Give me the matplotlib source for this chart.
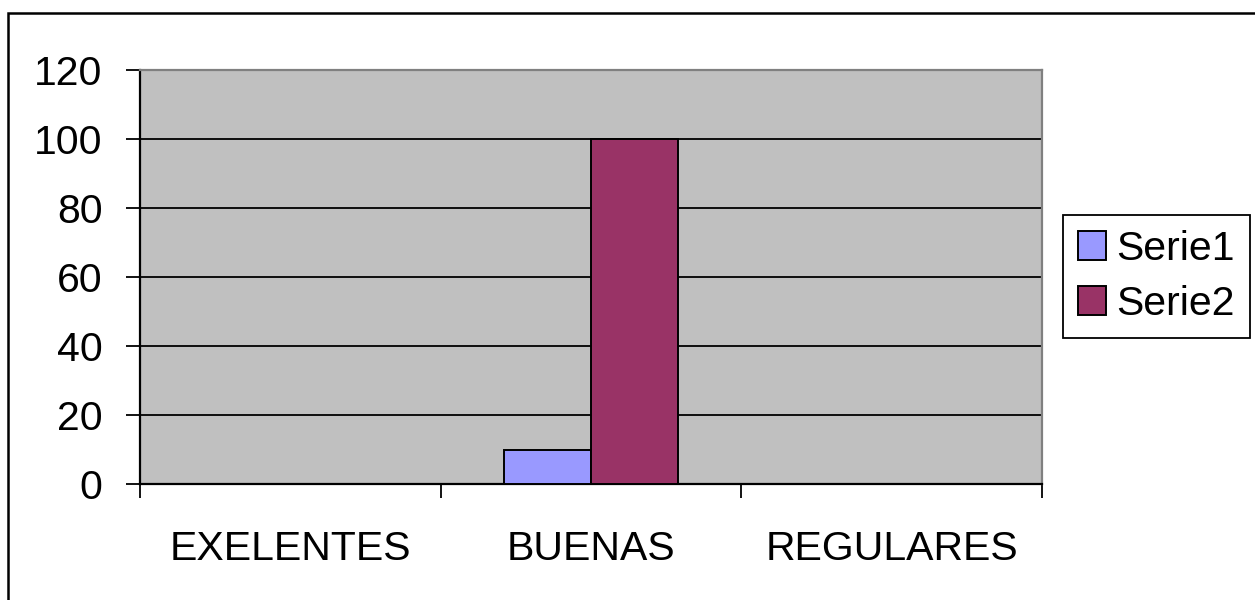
import numpy as np
import matplotlib.pyplot as plt
from matplotlib.patches import Rectangle

categories = ["EXELENTES", "BUENAS", "REGULARES"]
serie1 = [0, 10, 0]
serie2 = [0, 100, 0]
yticks = [0, 20, 40, 60, 80, 100, 120]

W, H = 1255, 600
plt.rcParams["font.family"] = ["Liberation Sans", "DejaVu Sans"]

fig = plt.figure(figsize=(W / 100, H / 100), dpi=100)
fig.patch.set_facecolor("white")

# outer chart border (runs off right/bottom edges like the source)
fig.patches.append(Rectangle((8 / W, -0.1), 1.2, 1 - 13 / H + 0.1,
                             transform=fig.transFigure, fill=False,
                             edgecolor="black", linewidth=1.8, zorder=0))

ax = fig.add_axes([140 / W, (H - 484) / H, 902 / W, 414 / H])
ax.set_facecolor("#C0C0C0")

x = np.arange(len(categories))
bw = 0.29
ax.bar(x - bw / 2, serie1, bw, color="#9999FF", edgecolor="black",
       linewidth=1.4, label="Serie1", zorder=3)
ax.bar(x + bw / 2, serie2, bw, color="#993366", edgecolor="black",
       linewidth=1.4, label="Serie2", zorder=3)

ax.set_xlim(-0.5, len(categories) - 0.5)
ax.set_ylim(0, 120)
ax.set_yticks(yticks)
ax.yaxis.grid(True, color="black", linewidth=1.3, zorder=1)
ax.set_axisbelow(True)

ax.set_xticks(x)
ax.set_xticklabels(categories)
ax.set_xticks(np.arange(-0.5, len(categories)), minor=True)
ax.tick_params(axis="x", which="major", length=0, pad=33, labelsize=29.5)
ax.tick_params(axis="x", which="minor", length=10, width=1.3, color="black")
ax.tick_params(axis="y", length=10, width=1.3, pad=17, labelsize=29.5)

for s in ("left", "bottom"):
    ax.spines[s].set_color("black")
    ax.spines[s].set_linewidth(1.6)
for s in ("top", "right"):
    ax.spines[s].set_color("#808080")
    ax.spines[s].set_linewidth(1.6)

leg = fig.legend(loc="upper left", bbox_to_anchor=(1063 / W, 1 - 215 / H),
                 bbox_transform=fig.transFigure, fontsize=29.5, frameon=True,
                 fancybox=False, framealpha=1, edgecolor="black",
                 handlelength=0.7, handleheight=0.7, handletextpad=0.25,
                 borderpad=0.36, labelspacing=0.42, borderaxespad=0)
leg.get_frame().set_linewidth(1.3)

fig.savefig("out.png", dpi=100, facecolor="white")
